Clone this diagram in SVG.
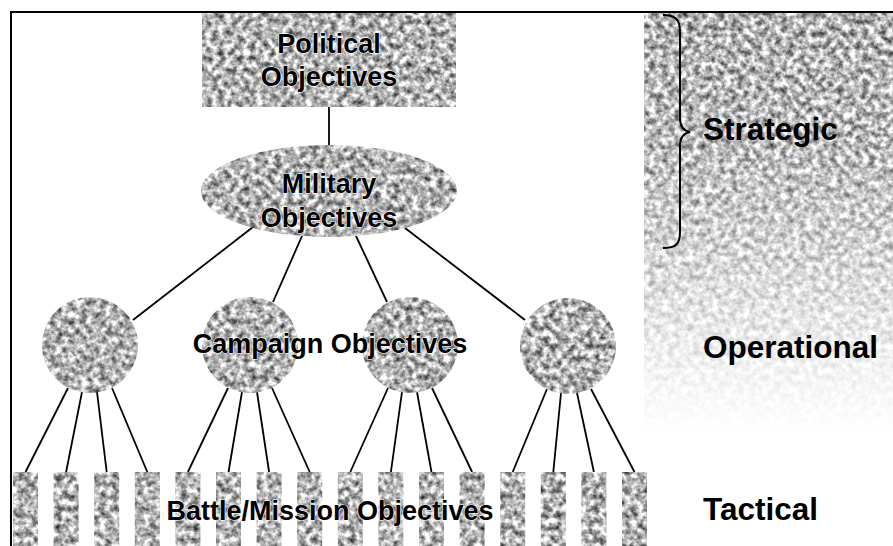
<svg xmlns="http://www.w3.org/2000/svg" width="893" height="546" viewBox="0 0 893 546">
<defs>
  <filter id="tex" filterUnits="userSpaceOnUse" x="0" y="0" width="893" height="546" color-interpolation-filters="sRGB">
    <feTurbulence type="fractalNoise" baseFrequency="0.16" numOctaves="3" seed="7"/>
    <feColorMatrix type="matrix" values="1.4 0 0 0 0.0  1.4 0 0 0 0.0  1.4 0 0 0 0.0  0 0 0 0 1"/>
    <feComposite in2="SourceGraphic" operator="in"/>
  </filter>
  <linearGradient id="fade" x1="0" y1="13" x2="0" y2="432" gradientUnits="userSpaceOnUse">
    <stop offset="0" stop-color="#fff" stop-opacity="1"/>
    <stop offset="0.3" stop-color="#fff" stop-opacity="0.9"/>
    <stop offset="0.6" stop-color="#fff" stop-opacity="0.5"/>
    <stop offset="0.85" stop-color="#fff" stop-opacity="0.15"/>
    <stop offset="1" stop-color="#fff" stop-opacity="0"/>
  </linearGradient>
  <mask id="fadeMask" maskUnits="userSpaceOnUse" x="0" y="0" width="893" height="546">
    <rect x="644" y="13" width="249" height="420" fill="url(#fade)"/>
  </mask>
</defs>
<style>
  .shape { fill: #000; filter: url(#tex); }
  .frame { stroke: #000; stroke-width: 2; fill: none; }
  .conn line { stroke: #000; stroke-width: 1.8; }
  .lbl { font-family: "Liberation Sans", Arial, sans-serif; font-weight: bold; font-size: 27px; fill: #000; text-anchor: middle; stroke: #fff; stroke-width: 1.2; paint-order: stroke; stroke-linejoin: round; }
  .lvl { font-family: "Liberation Sans", Arial, sans-serif; font-weight: bold; font-size: 31.5px; fill: #000; }
  .brace { stroke: #000; stroke-width: 2; fill: none; }
</style>

<!-- right textured band -->
<g id="band" mask="url(#fadeMask)">
  <rect class="shape" x="644" y="13" width="249" height="420"/>
</g>

<!-- frame -->
<path class="frame" d="M11,546 V12 H893"/>

<!-- connectors -->
<g id="connectors" class="conn">
  <line x1="329" y1="107" x2="329" y2="145"/>
  <line x1="253" y1="227" x2="133" y2="320"/>
  <line x1="302" y1="236" x2="273" y2="302"/>
  <line x1="356" y1="236" x2="387" y2="302"/>
  <line x1="405" y1="228" x2="525" y2="320"/>

  <line x1="68" y1="388" x2="25.5" y2="472"/>
  <line x1="82" y1="392" x2="66.1" y2="472"/>
  <line x1="97" y1="392" x2="106.7" y2="472"/>
  <line x1="112" y1="388" x2="147.3" y2="472"/>

  <line x1="228" y1="388" x2="187.9" y2="472"/>
  <line x1="242" y1="392" x2="228.5" y2="472"/>
  <line x1="257" y1="392" x2="269.1" y2="472"/>
  <line x1="272" y1="388" x2="309.7" y2="472"/>

  <line x1="388" y1="388" x2="350.3" y2="472"/>
  <line x1="402" y1="392" x2="390.9" y2="472"/>
  <line x1="417" y1="392" x2="431.5" y2="472"/>
  <line x1="432" y1="388" x2="472.1" y2="472"/>

  <line x1="547" y1="389" x2="512.7" y2="472"/>
  <line x1="561" y1="393" x2="553.3" y2="472"/>
  <line x1="577" y1="393" x2="593.9" y2="472"/>
  <line x1="591" y1="389" x2="634.5" y2="472"/>
</g>

<!-- nodes -->
<g id="political">
  <rect class="shape" x="202" y="13" width="254" height="94"/>
  <text class="lbl" x="329" y="53">Political</text>
  <text class="lbl" x="329" y="86">Objectives</text>
</g>
<g id="military">
  <ellipse class="shape" cx="329" cy="191" rx="128" ry="46"/>
  <text class="lbl" x="329" y="193">Military</text>
  <text class="lbl" x="329" y="227">Objectives</text>
</g>
<g id="campaign1"><circle class="shape" cx="90" cy="345" r="48"/></g>
<g id="campaign2"><circle class="shape" cx="250" cy="345" r="48"/></g>
<g id="campaign3"><circle class="shape" cx="410" cy="345" r="48"/></g>
<g id="campaign4"><circle class="shape" cx="568" cy="346" r="48"/></g>

<g id="battles">
  <rect class="shape" x="13" y="472" width="25" height="74"/>
  <rect class="shape" x="53.6" y="472" width="25" height="74"/>
  <rect class="shape" x="94.2" y="472" width="25" height="74"/>
  <rect class="shape" x="134.8" y="472" width="25" height="74"/>
  <rect class="shape" x="175.4" y="472" width="25" height="74"/>
  <rect class="shape" x="216" y="472" width="25" height="74"/>
  <rect class="shape" x="256.6" y="472" width="25" height="74"/>
  <rect class="shape" x="297.2" y="472" width="25" height="74"/>
  <rect class="shape" x="337.8" y="472" width="25" height="74"/>
  <rect class="shape" x="378.4" y="472" width="25" height="74"/>
  <rect class="shape" x="419" y="472" width="25" height="74"/>
  <rect class="shape" x="459.6" y="472" width="25" height="74"/>
  <rect class="shape" x="500.2" y="472" width="25" height="74"/>
  <rect class="shape" x="540.8" y="472" width="25" height="74"/>
  <rect class="shape" x="581.4" y="472" width="25" height="74"/>
  <rect class="shape" x="622" y="472" width="25" height="74"/>
</g>

<text class="lbl" x="330" y="353">Campaign Objectives</text>
<text class="lbl" x="330" y="520">Battle/Mission Objectives</text>

<!-- brace and levels -->
<path class="brace" d="M663,15 C676,15 680,20 680,32 L680,118 C680,127 684,131 690,132 C684,133 680,137 680,146 L680,232 C680,244 676,248 663,248"/>
<text class="lvl" x="703" y="140">Strategic</text>
<text class="lvl" x="703" y="358">Operational</text>
<text class="lvl" x="703" y="520">Tactical</text>
</svg>
